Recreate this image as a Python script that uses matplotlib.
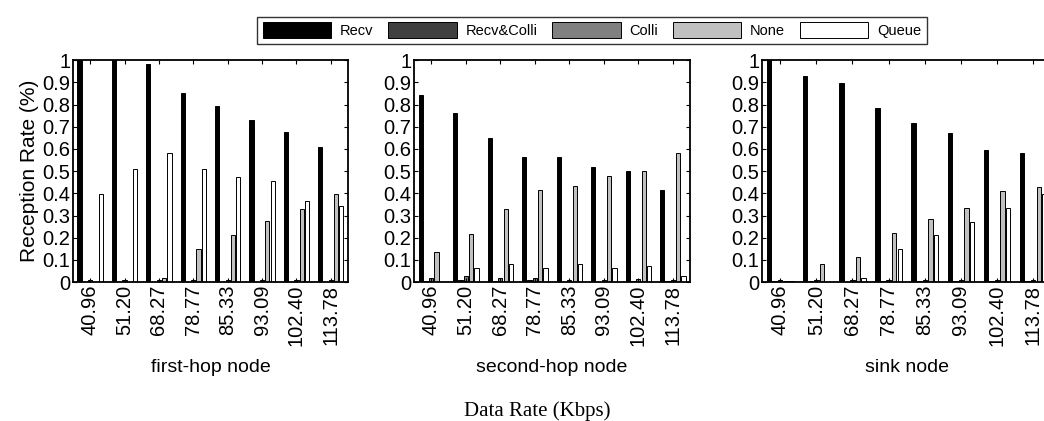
import numpy as np
import matplotlib
matplotlib.use("Agg")
import matplotlib.pyplot as plt

plt.rcParams['font.family'] = ['Liberation Sans', 'DejaVu Sans']

# Datos
rates = ["40.96", "51.20", "68.27", "78.77", "85.33", "93.09", "102.40", "113.78"]
series = ["Recv", "Recv&Colli", "Colli", "None", "Queue"]
colors = ["#000000", "#404040", "#808080", "#c0c0c0", "#ffffff"]

first_recv = [1.0, 1.0, 0.985, 0.85, 0.795, 0.73, 0.675, 0.61]
first_rc = [0.002, 0.002, 0.002, 0.002, 0.002, 0.002, 0.002, 0.002]
first_colli = [0.01, 0.01, 0.01, 0.01, 0.01, 0.01, 0.01, 0.01]
first_none = [0.0, 0.0, 0.02, 0.15, 0.21, 0.275, 0.33, 0.395]
first_queue = [0.395, 0.51, 0.58, 0.51, 0.475, 0.455, 0.365, 0.345]

second_recv = [0.845, 0.76, 0.65, 0.565, 0.565, 0.52, 0.50, 0.415]
second_rc = [0.005, 0.01, 0.005, 0.01, 0.002, 0.002, 0.005, 0.005]
second_colli = [0.02, 0.028, 0.02, 0.02, 0.008, 0.008, 0.012, 0.008]
second_none = [0.135, 0.215, 0.33, 0.415, 0.435, 0.48, 0.50, 0.58]
second_queue = [0.002, 0.065, 0.08, 0.065, 0.08, 0.065, 0.072, 0.028]

sink_recv = [1.0, 0.93, 0.895, 0.785, 0.715, 0.67, 0.595, 0.58]
sink_rc = [0.003, 0.003, 0.002, 0.003, 0.003, 0.003, 0.003, 0.003]
sink_colli = [0.008, 0.008, 0.008, 0.008, 0.008, 0.008, 0.008, 0.008]
sink_none = [0.005, 0.08, 0.115, 0.22, 0.285, 0.335, 0.41, 0.43]
sink_queue = [0.005, 0.0, 0.02, 0.15, 0.21, 0.27, 0.335, 0.395]

panels = [
    ("first-hop node", [first_recv, first_rc, first_colli, first_none, first_queue]),
    ("second-hop node", [second_recv, second_rc, second_colli, second_none, second_queue]),
    ("sink node", [sink_recv, sink_rc, sink_colli, sink_none, sink_queue]),
]

fig = plt.figure(figsize=(10.44, 4.21), dpi=100)
rects = [
    [0.0699, 0.330, 0.2634, 0.527],
    [0.3966, 0.330, 0.2644, 0.527],
    [0.7300, 0.330, 0.2770, 0.527],
]

x = np.arange(1, len(rates) + 1)
step = 0.154
w = 0.123

handles = []
for i, (name, vals) in enumerate(panels):
    ax = fig.add_axes(rects[i])
    for k, v in enumerate(vals):
        b = ax.bar(x + (k - 2) * step, v, width=w, color=colors[k],
                   edgecolor="black", linewidth=0.7, label=series[k])
        if i == 0:
            handles.append(b)
    ax.set_xlim(0.5, 8.5)
    ax.set_ylim(0, 1)
    ax.set_yticks(np.arange(0, 1.01, 0.1))
    ax.set_yticklabels(["0", "0.1", "0.2", "0.3", "0.4", "0.5", "0.6", "0.7", "0.8", "0.9", "1"])
    ax.set_xticks(x)
    ax.set_xticklabels(rates, rotation=90)
    ax.tick_params(direction="in", length=3, top=True, right=True, labelsize=14.5, pad=2)
    for s in ax.spines.values():
        s.set_linewidth(1.3)
    ax.set_xlabel(name, fontsize=14, labelpad=9)
    if i == 0:
        ax.set_ylabel("Reception Rate (%)", fontsize=15, labelpad=2)

fig.legend(handles, series, loc="center", bbox_to_anchor=(0.567, 0.928), ncol=5,
           fontsize=10.5, frameon=True, fancybox=False, edgecolor="black",
           handlelength=4.7, handleheight=1.3, handletextpad=0.6, columnspacing=1.0,
           borderpad=0.4)

fig.text(0.515, 0.012, "Data Rate (Kbps)", ha="center", va="baseline",
         fontsize=15, family="Liberation Serif")

plt.savefig("out.png", dpi=100)
